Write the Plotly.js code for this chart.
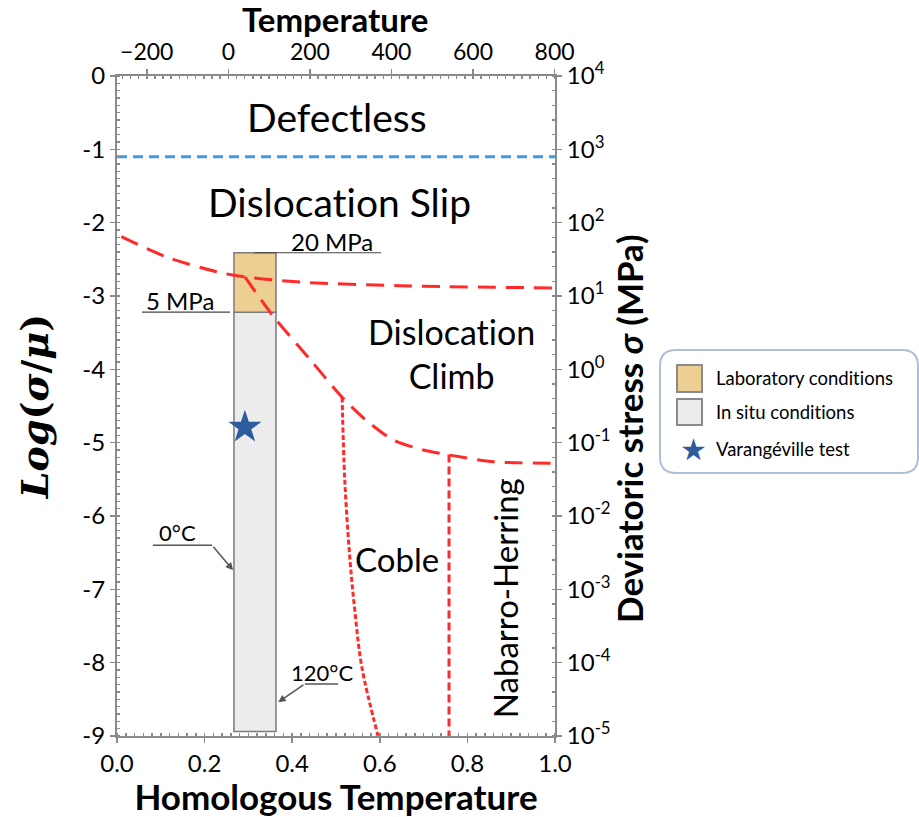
<!DOCTYPE html>
<html><head><meta charset="utf-8">
<script src="https://cdn.plot.ly/plotly-3.0.1.min.js"></script>
<style>body{margin:0;background:#fff}#chart{width:919px;height:817px}text{font-variant-ligatures:none;font-feature-settings:"liga" 0,"clig" 0}</style>
</head><body><div id="chart"></div>
<script>
// ---- data ----
const slipClimbX = [0.01, 0.114, 0.228, 0.292, 0.418, 0.646, 1.0];
const slipClimbY = [-2.19, -2.47, -2.67, -2.74, -2.81, -2.86, -2.89];
const climbDiffX = [0.292, 0.356, 0.44, 0.514, 0.57, 0.63, 0.70, 0.76, 0.86, 1.0];
const climbDiffY = [-2.74, -3.27, -3.86, -4.38, -4.70, -4.96, -5.10, -5.17, -5.26, -5.28];
const cobleX = [0.514, 0.520, 0.532, 0.543, 0.559, 0.596];
const cobleY = [-4.38, -5.51, -6.60, -7.29, -8.06, -9.0];
const nhX = [0.758, 0.758];
const nhY = [-5.16, -9.0];
const defectLimitY = -1.1;
const labBoxX = [0.267, 0.363];
const labBoxY = [-2.41, -3.22];
const situBoxY = [-3.22, -8.94];
const testX = [0.292];
const testY = [-4.79];
const leftTicks = [0, -1, -2, -3, -4, -5, -6, -7, -8, -9];
const bottomTicks = [0, 0.2, 0.4, 0.6, 0.8, 1.0];
const topTicks = [-200, 0, 200, 400, 600, 800];
const rightExps = [4, 3, 2, 1, 0, -1, -2, -3, -4, -5];
const regionLabels = ["Defectless", "Dislocation Slip", "Dislocation<br>Climb", "Coble", "Nabarro-Herring"];
const legendLabels = ["Laboratory conditions", "In situ conditions", "Varangéville test"];

// ---- layout helpers (pixel -> paper) ----
const L = 117, R = 555, T = 76, B = 736;
const px = p => (p - L) / (R - L);
const py = p => (B - p) / (B - T);

const sans = "Lato, 'Open Sans', sans-serif";
const red = "#ff2b2b";
const axisCol = "#8a8a8a";

const traces = [
  {x: [0, 1], y: [defectLimitY, defectLimitY], mode: "lines",
   line: {color: "#3d9be3", width: 3, dash: "10px,6px"}, hoverinfo: "skip"},
  {x: slipClimbX, y: slipClimbY, mode: "lines",
   line: {color: red, width: 3, dash: "18px,10px", shape: "spline", smoothing: 0.8}, hoverinfo: "skip"},
  {x: climbDiffX, y: climbDiffY, mode: "lines",
   line: {color: red, width: 3, dash: "18px,10px", shape: "spline", smoothing: 0.8}, hoverinfo: "skip"},
  {x: cobleX, y: cobleY, mode: "lines",
   line: {color: red, width: 3, dash: "5px,2.5px", shape: "spline"}, hoverinfo: "skip"},
  {x: nhX, y: nhY, mode: "lines",
   line: {color: red, width: 3, dash: "8px,4px"}, hoverinfo: "skip"},
  {x: testX, y: testY, mode: "markers",
   marker: {symbol: "star", size: 25, color: "#2c5c9c", line: {width: 0}}, hoverinfo: "skip"},
  // invisible traces so the top and right axes are drawn
  {x: [topTicks[0]], y: [0], xaxis: "x2", yaxis: "y", mode: "markers", marker: {opacity: 0}, hoverinfo: "skip"},
  {x: [0], y: [rightExps[0]], xaxis: "x", yaxis: "y2", mode: "markers", marker: {opacity: 0}, hoverinfo: "skip"}
];

const shapes = [
  {type: "rect", xref: "x", yref: "y", x0: labBoxX[0], x1: labBoxX[1], y0: situBoxY[0], y1: situBoxY[1],
   fillcolor: "#ececec", line: {color: "#7a7a7a", width: 1.5}, layer: "below"},
  {type: "rect", xref: "x", yref: "y", x0: labBoxX[0], x1: labBoxX[1], y0: labBoxY[0], y1: labBoxY[1],
   fillcolor: "#eecf93", line: {color: "#7a7a7a", width: 1.5}, layer: "below"},
  {type: "line", xref: "x", yref: "y", x0: 0.313, x1: 0.603, y0: labBoxY[0], y1: labBoxY[0], line: {color: "#444", width: 1.2}},
  {type: "line", xref: "x", yref: "y", x0: 0.057, x1: 0.258, y0: labBoxY[1], y1: labBoxY[1], line: {color: "#444", width: 1.2}},
  {type: "line", xref: "x", yref: "y", x0: 0.082, x1: 0.217, y0: -6.40, y1: -6.40, line: {color: "#555", width: 1.5}},
  {type: "line", xref: "x", yref: "y", x0: 0.429, x1: 0.505, y0: -8.29, y1: -8.29, line: {color: "#555", width: 1.5}},
  {type: "path", xref: "paper", yref: "paper", layer: "above",
   path: (function(){
     const x0 = 660, x1 = 918, y0 = 350, y1 = 473, r = 16;
     return `M ${px(x0+r)} ${py(y0)} L ${px(x1-r)} ${py(y0)} Q ${px(x1)} ${py(y0)} ${px(x1)} ${py(y0+r)} ` +
            `L ${px(x1)} ${py(y1-r)} Q ${px(x1)} ${py(y1)} ${px(x1-r)} ${py(y1)} L ${px(x0+r)} ${py(y1)} ` +
            `Q ${px(x0)} ${py(y1)} ${px(x0)} ${py(y1-r)} L ${px(x0)} ${py(y0+r)} Q ${px(x0)} ${py(y0)} ${px(x0+r)} ${py(y0)} Z`;
   })(),
   line: {color: "#aebfd8", width: 2}, fillcolor: "rgba(255,255,255,0)"},
  {type: "rect", xref: "paper", yref: "paper", x0: px(677), x1: px(702), y0: py(365), y1: py(392),
   fillcolor: "#eecf93", line: {color: "#8a8a8a", width: 2}},
  {type: "rect", xref: "paper", yref: "paper", x0: px(677), x1: px(702), y0: py(399), y1: py(425),
   fillcolor: "#ececec", line: {color: "#8a8a8a", width: 2}}
];

const annotations = [
  {x: 0.502, y: -0.56, text: regionLabels[0], font: {size: 39}},
  {x: 0.509, y: -1.72, text: regionLabels[1], font: {size: 39}},
  {x: 0.763, y: -3.78, text: regionLabels[2], font: {size: 34}},
  {x: 0.639, y: -6.58, text: regionLabels[3], font: {size: 33}},
  {x: 0.886, y: -7.12, text: regionLabels[4], font: {size: 33}, textangle: -90},
  {x: 0.491, y: -2.26, text: "20 MPa", font: {size: 24}},
  {x: 0.144, y: -3.06, text: "5 MPa", font: {size: 24}},
  {x: 0.137, y: -6.23, text: "0°C", font: {size: 22}},
  {x: 0.468, y: -8.14, text: "120°C", font: {size: 22}},
].map(a => Object.assign({xref: "x", yref: "y", showarrow: false}, a,
  {font: Object.assign({family: sans, color: "#000"}, a.font)}));

annotations.push(
  {xref: "x", yref: "y", x: 0.265, y: -6.74, ax: 0.217, ay: -6.40, axref: "x", ayref: "y",
   text: "", showarrow: true, arrowhead: 2, arrowsize: 1, arrowwidth: 1.5, arrowcolor: "#555"},
  {xref: "x", yref: "y", x: 0.368, y: -8.54, ax: 0.429, ay: -8.29, axref: "x", ayref: "y",
   text: "", showarrow: true, arrowhead: 2, arrowsize: 1, arrowwidth: 1.5, arrowcolor: "#555"}
);

[378, 412, 449].forEach((yy, i) => annotations.push(
  {xref: "paper", yref: "paper", x: px(714), y: py(yy), xanchor: "left", yanchor: "middle",
   text: legendLabels[i], showarrow: false, font: {family: sans, size: 18.5, color: "#000"}}));
annotations.push({xref: "paper", yref: "paper", x: px(693), y: py(449), xanchor: "center", yanchor: "middle",
  text: "★", showarrow: false, font: {family: "DejaVu Sans", size: 30, color: "#2c5c9c"}});

// axis titles placed as in the reference
annotations.push(
  {xref: "paper", yref: "paper", x: px(335), y: py(19), xanchor: "center", yanchor: "middle",
   text: "<b>Temperature</b>", showarrow: false, font: {family: sans, size: 33, color: "#000"}},
  {xref: "paper", yref: "paper", x: px(629), y: py(429), xanchor: "center", yanchor: "middle", textangle: -90,
   text: "<b>Deviatoric stress <i>σ</i> (MPa)</b>", showarrow: false, font: {family: sans, size: 35, color: "#000"}}
);

const axisCommon = {
  showgrid: false, zeroline: false, showline: true, linecolor: axisCol, linewidth: 2,
  ticks: "outside", ticklen: 5, tickcolor: axisCol, tickwidth: 1.5,
  tickfont: {family: sans, size: 24, color: "#000"}
};

const layout = {
  width: 919, height: 817,
  margin: {l: L, r: 919 - R, t: T, b: 817 - B},
  paper_bgcolor: "#fff", plot_bgcolor: "#fff",
  showlegend: false,
  xaxis: Object.assign({}, axisCommon, {
    range: [0, 1], tickvals: bottomTicks, ticktext: bottomTicks.map(v => v.toFixed(1)),
    minor: {dtick: 0.02, ticks: "inside", ticklen: 3, tickcolor: axisCol},
    title: {text: "<b>Homologous Temperature</b>", font: {family: sans, size: 35, color: "#000"}, standoff: 6}
  }),
  xaxis2: Object.assign({}, axisCommon, {
    overlaying: "x", side: "top", range: [-273, 801], tickvals: topTicks,
    tickfont: {family: sans, size: 23, color: "#000"},
    minor: {dtick: 20, tick0: 0, ticks: "inside", ticklen: 3, tickcolor: axisCol}
  }),
  yaxis: Object.assign({}, axisCommon, {
    range: [-9, 0], tickvals: leftTicks, ticktext: leftTicks.map(v => String(v)),
    minor: {dtick: 0.1, ticks: "inside", ticklen: 3, tickcolor: axisCol},
    title: {text: "<b><i>Log</i>(<i>σ</i>/<i>μ</i>)</b>", font: {family: "'DejaVu Serif', serif", size: 38, color: "#000"}, standoff: 22}
  }),
  yaxis2: Object.assign({}, axisCommon, {
    overlaying: "y", side: "right", range: [-5, 4], tickvals: rightExps,
    ticktext: rightExps.map(e => "10<sup>" + e + "</sup>"),
    minor: {dtick: 0.2, ticks: "inside", ticklen: 3, tickcolor: axisCol}
  }),
  shapes: shapes,
  annotations: annotations
};

Plotly.newPlot("chart", traces, layout, {displayModeBar: false, staticPlot: true});
</script></body></html>
